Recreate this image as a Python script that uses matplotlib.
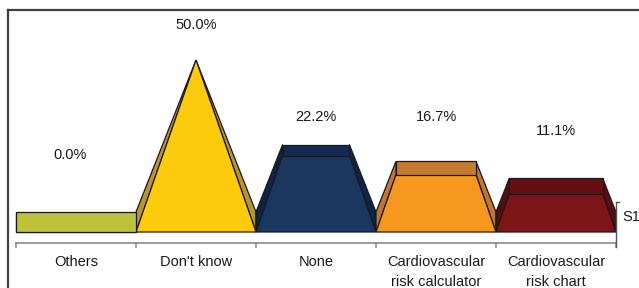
import matplotlib
matplotlib.use("Agg")
import matplotlib.pyplot as plt
from matplotlib.lines import Line2D

# Data
categories = ["Others", "Don't know", "None",
              "Cardiovascular\nrisk calculator", "Cardiovascular\nrisk chart"]
values = [0.0, 50.0, 22.2, 16.7, 11.1]
value_labels = ["0.0%", "50.0%", "22.2%", "16.7%", "11.1%"]
series_label = "S1"

# Colours: front face, side face, top face
front_colors = ["#BEC13A", "#FDCB0B", "#1B365F", "#F6981F", "#7C1518"]
side_colors = ["#8E9128", "#B8962C", "#0F2446", "#C27630", "#560D10"]
top_colors = ["#BEC13A", "#D6AE20", "#132A52", "#C47B34", "#660F13"]

plt.rcParams['font.family'] = ['Liberation Sans', 'DejaVu Sans']

W, H = 639, 288
fig = plt.figure(figsize=(W / 100, H / 100), dpi=100)
ax = fig.add_axes([0, 0, 1, 1])

# pixel geometry -> data units
px_per_cat = 120.0
left_px = 16.0
base_px = 232.0
top_val = max(values)
px_per_val = (base_px - 60.0) / top_val
depth = 20.0 / px_per_val

ax.set_xlim(-0.5 - left_px / px_per_cat, -0.5 + (W - left_px) / px_per_cat)
ax.set_ylim((base_px - H) / px_per_val, base_px / px_per_val)
ax.axis("off")

edge = "#1a1a1a"
half = 0.5
for i, v in enumerate(values):
    f = v / top_val
    hw = half * (1 - f)
    y_front = top_val * f
    y_back = depth + (top_val - depth) * f
    # side faces
    for s in (-1, 1):
        ax.fill([i + s * half, i + s * half, i + s * hw, i + s * hw],
                [0, depth, y_back, y_front],
                color=side_colors[i], ec=edge, lw=0.9, zorder=2)
    # front face
    ax.fill([i - half, i + half, i + hw, i - hw],
            [0, 0, y_front, y_front],
            color=front_colors[i], ec=edge, lw=0.9, zorder=3)
    # top face
    if y_back > y_front:
        ax.fill([i - hw, i + hw, i + hw, i - hw],
                [y_front, y_front, y_back, y_back],
                color=top_colors[i], ec=edge, lw=0.9, zorder=4)

# value labels
label_px = [155, 25, 117, 117, 131]
for i, (lab, py) in enumerate(zip(value_labels, label_px)):
    ax.text(i - 0.05 if i == 0 else i, (base_px - py) / px_per_val, lab,
            ha="center", va="center", fontsize=10.5, color="#1a1a1a")

# category axis
y_axis = (base_px - 243) / px_per_val
y_tick = (base_px - 247) / px_per_val
ax.plot([-0.5, len(values) - 0.5], [y_axis, y_axis], color="#8c8c8c", lw=1.2, zorder=1)
for k in range(len(values) + 1):
    ax.plot([k - 0.5, k - 0.5], [y_axis, y_tick], color="#8c8c8c", lw=1.2, zorder=1)

for i, cat in enumerate(categories):
    ax.text(i, (base_px - 255) / px_per_val, cat, ha="center", va="top",
            fontsize=10.5, color="#1a1a1a", linespacing=1.5)

# series axis on the right
xr = len(values) - 0.5
y_s_top = (base_px - 202) / px_per_val
ax.plot([xr, xr], [y_s_top, y_tick], color="#555555", lw=1.0, zorder=5)
ax.plot([xr, xr + 3 / px_per_cat], [y_s_top, y_s_top], color="#555555", lw=1.0, zorder=5)
ax.text(xr + 6 / px_per_cat, (base_px - 217) / px_per_val, series_label,
        ha="left", va="center", fontsize=10.5, color="#1a1a1a")

# outer frame (top and left)
fig.add_artist(Line2D([8 / W, 8 / W], [0, 1 - 10 / H], color="#404040", lw=1.6))
fig.add_artist(Line2D([8 / W, 1], [1 - 10 / H, 1 - 10 / H], color="#404040", lw=1.6))

fig.savefig("out.png", dpi=100)
